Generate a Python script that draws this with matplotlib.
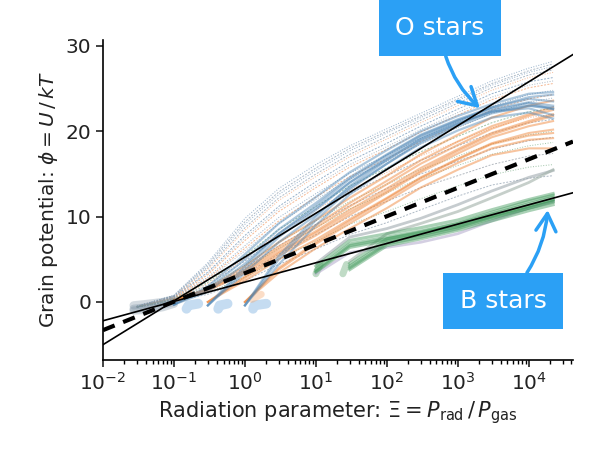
import matplotlib
matplotlib.use("Agg")
import matplotlib.pyplot as plt
import numpy as np

nan = np.nan

# shared grid of radiation parameter values
xi = [0.03, 0.1, 0.3, 1, 3, 10, 30, 100, 300, 1000, 3000, 10000, 22000]

# thin dotted runs (fan above the fits)
dotted_runs = [
    [-0.5, 0.8, 4.6, 9.8, 13.3, 16.1, 18.3, 20.3, 22.1, 24.1, 25.9, 27.4, 28.2],
    [-0.5, 0.75, 4.4, 9.4, 12.9, 15.7, 18.0, 20.0, 21.8, 23.8, 25.6, 27.1, 27.9],
    [-0.5, 0.7, 4.2, 9.1, 12.6, 15.4, 17.7, 19.8, 21.6, 23.6, 25.4, 26.9, 27.6],
    [-0.6, 0.65, 4.0, 8.7, 12.2, 15.0, 17.3, 19.4, 21.3, 23.3, 25.1, 26.6, 27.2],
    [-0.6, 0.6, 3.8, 8.4, 11.9, 14.7, 17.0, 19.1, 21.0, 23.0, 24.8, 26.3, 26.9],
    [-0.6, 0.6, 3.5, 7.8, 11.2, 14.1, 16.5, 18.6, 20.6, 22.6, 24.4, 25.8, 26.3],
    [-0.6, 0.55, 3.35, 7.5, 10.9, 13.7, 16.1, 18.2, 20.2, 22.2, 24.0, 25.4, 25.9],
    [-0.6, 0.5, 3.2, 7.2, 10.6, 13.4, 15.8, 17.9, 19.9, 21.9, 23.7, 25.1, 25.6],
    [-0.6, 0.5, 2.9, 6.6, 9.9, 12.7, 15.1, 17.2, 19.2, 21.1, 22.9, 24.3, 24.8],
    [-0.6, 0.45, 2.75, 6.3, 9.5, 12.3, 14.7, 16.8, 18.8, 20.7, 22.5, 23.8, 24.3],
    [-0.6, 0.4, 2.6, 6.0, 9.2, 12.0, 14.4, 16.5, 18.5, 20.4, 22.1, 23.4, 23.9],
    [-0.6, 0.4, 2.3, 5.4, 8.5, 11.2, 13.6, 15.7, 17.6, 19.4, 21.0, 22.3, 22.7],
    [-0.6, 0.35, 2.15, 5.1, 8.1, 10.8, 13.1, 15.2, 17.1, 18.8, 20.4, 21.6, 22.0],
    [-0.6, 0.3, 2.0, 4.8, 7.7, 10.4, 12.7, 14.8, 16.6, 18.3, 19.8, 21.0, 21.4],
    [-0.6, 0.3, 1.8, 4.3, 7.0, 9.5, 11.8, 13.8, 15.5, 17.1, 18.5, 19.6, 20.0],
    [-0.6, 0.25, 1.65, 4.0, 6.6, 9.1, 11.3, 13.3, 15.0, 16.5, 17.9, 18.9, 19.3],
    [-0.6, 0.2, 1.5, 3.8, 6.3, 8.7, 10.9, 12.8, 14.5, 16.0, 17.3, 18.3, 18.7],
    [-0.6, 0.2, 1.3, 3.3, 5.6, 7.9, 10.0, 11.8, 13.4, 14.8, 16.1, 17.1, 17.4],
    [-0.6, 0.1, 1.1, 2.9, 5.0, 7.1, 9.1, 10.6, 12.1, 13.6, 14.9, 15.8, 16.1],
    [-0.6, 0.1, 0.9, 2.5, 4.4, 6.2, 7.9, 9.3, 10.8, 12.4, 13.7, 14.5, 14.8],
]
dotted_colors = ["#7b9cbc", "#9aa9b8", "#7b9cbc", "#9aa9b8", "#f2a779", "#7b9cbc",
                 "#9aa9b8", "#f2a779", "#7b9cbc", "#f2a779", "#9aa9b8", "#86b592",
                 "#f2a779", "#9aa9b8", "#86b592", "#9aa9b8", "#86b592", "#a0a8b0",
                 "#86b592", "#9aa9b8"]

blue_runs = [
    [nan, -0.3, 1.8, 5.6, 9.2, 12.3, 15.2, 17.8, 20.0, 21.8, 23.2, 24.4, 24.6],
    [nan, -0.3, 1.5, 5.0, 8.5, 11.6, 14.6, 17.3, 19.6, 21.4, 22.8, 23.8, 23.5],
    [nan, -0.3, 1.2, 4.5, 8.0, 11.0, 14.0, 16.7, 19.0, 20.9, 22.3, 23.0, 22.6],
    [nan, nan, -0.4, 4.2, 8.0, 11.3, 14.4, 17.2, 19.5, 21.3, 22.6, 23.4, 23.0],
    [nan, nan, -0.4, 3.8, 7.6, 10.8, 14.0, 16.9, 19.3, 21.2, 22.8, 24.0, 24.3],
    [nan, nan, -0.4, 3.4, 7.0, 10.2, 13.4, 16.2, 18.6, 20.6, 22.1, 23.0, 22.8],
    [nan, nan, nan, -0.4, 5.4, 10.0, 13.6, 16.6, 19.1, 21.0, 22.3, 22.7, 21.9],
    [nan, nan, nan, -0.4, 5.0, 9.6, 13.2, 16.2, 18.8, 20.8, 22.4, 23.3, 22.6],
    [nan, nan, nan, -0.4, 4.4, 9.0, 12.6, 15.6, 18.1, 20.1, 21.6, 22.2, 21.5],
]
orange_runs = [
    [nan, 0.1, 1.6, 4.2, 7.0, 9.6, 12.2, 14.8, 17.3, 19.6, 21.6, 23.0, 23.6],
    [nan, 0.2, 1.5, 3.8, 6.5, 9.0, 11.6, 14.2, 16.6, 18.8, 20.6, 22.0, 22.8],
    [nan, 0.2, 1.4, 3.6, 6.2, 8.7, 11.2, 13.8, 16.2, 18.4, 20.3, 21.8, 22.5],
    [nan, 0.2, 1.3, 3.4, 5.9, 8.3, 10.8, 13.3, 15.7, 17.9, 19.8, 21.2, 22.0],
    [nan, nan, 0.0, 3.0, 5.7, 8.1, 10.5, 13.0, 15.4, 17.7, 19.6, 21.0, 21.8],
    [nan, nan, 0.0, 2.8, 5.4, 7.8, 10.2, 12.8, 15.2, 17.4, 19.3, 20.6, 21.2],
    [nan, nan, 0.0, 2.5, 5.0, 7.3, 9.7, 12.2, 14.6, 16.8, 18.6, 19.8, 20.2],
    [nan, nan, nan, 0.0, 4.0, 7.0, 9.5, 12.1, 14.5, 16.7, 18.5, 19.5, 19.8],
    [nan, nan, nan, 0.0, 3.8, 6.8, 9.2, 11.8, 14.2, 16.3, 18.0, 19.0, 19.2],
    [nan, nan, nan, 0.0, 3.4, 6.3, 8.6, 11.0, 13.4, 15.5, 17.2, 18.0, 18.0],
]
green_runs = [
    [nan, nan, nan, nan, nan, 4.2, 7.2, 8.0, 8.7, 9.6, 10.8, 12.0, 12.7],
    [nan, nan, nan, nan, nan, 3.8, 6.8, 7.6, 8.3, 9.2, 10.3, 11.5, 12.3],
    [nan, nan, nan, nan, nan, 3.6, 6.6, 7.4, 8.1, 9.0, 10.1, 11.3, 12.0],
    [nan, nan, nan, nan, nan, 3.5, 6.4, 7.2, 7.9, 8.8, 9.9, 11.0, 11.8],
    [nan, nan, nan, nan, nan, nan, 4.5, 7.4, 8.2, 9.2, 10.5, 11.8, 12.5],
    [nan, nan, nan, nan, nan, nan, 4.2, 7.0, 7.8, 8.8, 10.0, 11.2, 12.0],
    [nan, nan, nan, nan, nan, nan, 4.0, 6.8, 7.6, 8.6, 9.8, 11.0, 11.7],
    [nan, nan, nan, nan, nan, nan, 3.8, 6.6, 7.4, 8.4, 9.5, 10.7, 11.4],
]
gray_runs = [
    [nan, nan, nan, nan, nan, 3.3, 5.8, 6.4, 7.0, 8.0, 9.5, 11.0, 11.8],
    [nan, nan, nan, nan, nan, 4.5, 7.6, 8.6, 9.8, 11.4, 13.0, 14.6, 15.4],
    [nan, nan, nan, nan, nan, nan, 4.8, 8.0, 9.2, 10.6, 12.2, 14.0, 15.5],
]
gray_colors = ["#b8b0d0", "#a0aab0", "#a0b0a8"]

# starting blobs of the runs
blob_x = [0.027, 0.045, 0.07, 0.1]
blob_runs = [[-0.4, -0.2, 0.0, 0.3], [-0.8, -0.6, -0.3, 0.0], [-1.0, -0.9, -0.6, -0.2]]
blue_stub_x = [[0.15, 0.16, 0.22], [0.42, 0.44, 0.57], [1.3, 1.36, 2.0]]
blue_stub_y = [-0.8, -0.4, -0.2]
orange_stub_x = [[0.12, 0.17], [1.25, 1.7]]
orange_stub_y = [0.3, 0.9]
green_stub_x = [[10, 11.5], [24, 27]]
green_stub_y = [3.3, 4.4]

# power-law fits
fit_x = [0.01, 42000]
fit_upper = [-5.0, 29.0]
fit_mid = [-3.3, 18.8]
fit_lower = [-2.2, 12.8]

box_color = "#2ba0f5"

fig = plt.figure(figsize=(6, 4.69), dpi=100)
ax = fig.add_axes([0.1717, 0.2324, 0.7833, 0.6823])

for i, run in enumerate(dotted_runs):
    if i % 2 == 0:
        ax.plot(xi, run, color=dotted_colors[i], lw=0.7, alpha=0.8, ls=":")
    else:
        ax.plot(xi, run, color=dotted_colors[i], lw=0.7, alpha=0.8, ls="--", dashes=(2, 1.5))

for run in blob_runs:
    ax.plot(blob_x, run, color="#6f8799", lw=6, alpha=0.3, solid_capstyle="round")
for sx in blue_stub_x:
    ax.plot(sx, blue_stub_y, color="#6fa8dc", lw=7, alpha=0.4, solid_capstyle="round")
for sx in orange_stub_x:
    ax.plot(sx, orange_stub_y, color="#f5a061", lw=5, alpha=0.35, solid_capstyle="round")
for sx in green_stub_x:
    ax.plot(sx, green_stub_y, color="#4c9a5e", lw=5, alpha=0.35, solid_capstyle="round")

for run in orange_runs:
    ax.plot(xi, run, color="#f08a40", lw=1.5, alpha=0.5)
for run in blue_runs:
    ax.plot(xi, run, color="#4a84b5", lw=1.6, alpha=0.45)
for i, run in enumerate(gray_runs):
    ax.plot(xi, run, color=gray_colors[i], lw=2.0, alpha=0.6)
for run in green_runs:
    ax.plot(xi, run, color="#429a5c", lw=2.3, alpha=0.45)

ax.plot(fit_x, fit_upper, color="k", lw=1.2)
ax.plot(fit_x, fit_lower, color="k", lw=1.2)
ax.plot(fit_x, fit_mid, color="k", lw=3, ls="--", dashes=(3, 2.2))

ax.set_xscale("log")
ax.set_xlim(0.01, 42000)
ax.set_ylim(-6.8, 30.7)
ax.set_yticks([0, 10, 20, 30])
ax.spines["top"].set_visible(False)
ax.spines["right"].set_visible(False)
ax.spines["left"].set_linewidth(1.2)
ax.spines["bottom"].set_linewidth(1.2)
ax.tick_params(labelsize=14.5, width=1.2, length=5, color="#222222", labelcolor="#222222")
ax.tick_params(which="minor", width=1.0, length=3)

ax.set_xlabel(r"Radiation parameter: $\Xi = P_{\rm rad}\,/\,P_{\rm gas}$", fontsize=15, color="#222222")
ax.set_ylabel(r"Grain potential: $\phi = U\,/\,kT$", fontsize=14.5, color="#222222")

ax.annotate("O stars", xy=(2190, 22.5), xycoords="data",
            xytext=(440, 441), textcoords="figure pixels",
            ha="center", va="center", fontsize=18, color="white",
            bbox=dict(boxstyle="square,pad=0.65", fc=box_color, ec="none"),
            arrowprops=dict(arrowstyle="->,head_length=0.7,head_width=0.4", color=box_color,
                            lw=2.5, connectionstyle="arc3,rad=0.2", shrinkA=0, shrinkB=2))
ax.annotate("B stars", xy=(18600, 11.1), xycoords="data",
            xytext=(503, 168), textcoords="figure pixels",
            ha="center", va="center", fontsize=18, color="white",
            bbox=dict(boxstyle="square,pad=0.65", fc=box_color, ec="none"),
            arrowprops=dict(arrowstyle="->,head_length=0.7,head_width=0.4", color=box_color,
                            lw=2.5, connectionstyle="arc3,rad=0.2", shrinkA=0, shrinkB=2))

fig.savefig("out.png", dpi=100)
